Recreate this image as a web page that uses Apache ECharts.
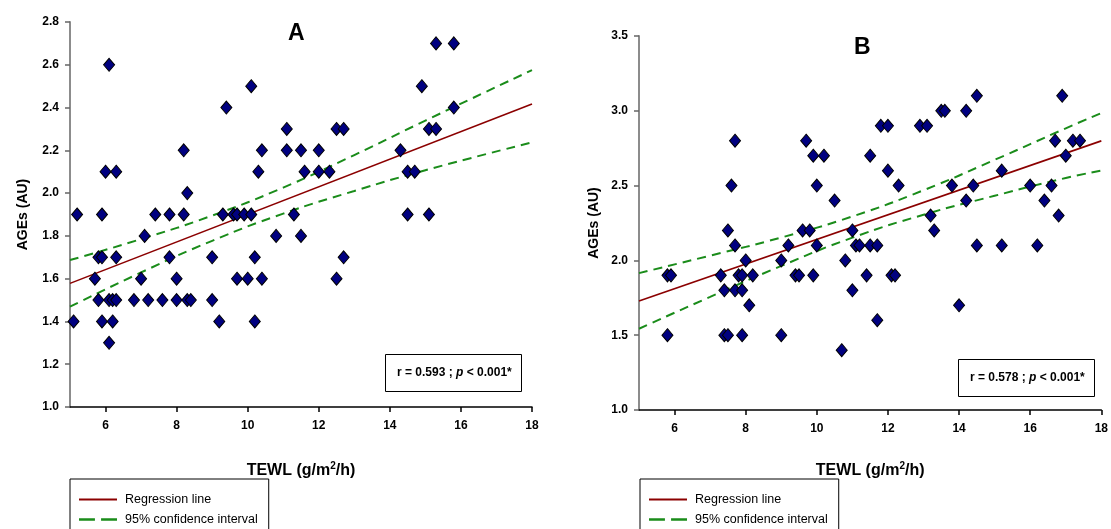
<!DOCTYPE html>
<html>
<head>
<meta charset="utf-8">
<title>AGEs vs TEWL</title>
<script src="https://cdn.jsdelivr.net/npm/echarts@6/dist/echarts.min.js"></script>
<style>
  html, body { margin: 0; padding: 0; background: #fff; }
  #chart { width: 1111px; height: 529px; }
</style>
</head>
<body>
<div id="chart"></div>
<script>
// 面板 A：散点 [TEWL, AGEs]
const pointsA = [
  [5.1, 1.4], [5.2, 1.9], [5.7, 1.6], [5.8, 1.7], [5.9, 1.7], [5.8, 1.5], [5.9, 1.4], [5.9, 1.9],
  [6.0, 2.1], [6.1, 2.6], [6.1, 1.5], [6.2, 1.5], [6.3, 1.5], [6.2, 1.4], [6.1, 1.3], [6.3, 1.7],
  [6.3, 2.1], [6.8, 1.5], [7.0, 1.6], [7.1, 1.8], [7.2, 1.5], [7.4, 1.9], [7.6, 1.5], [7.8, 1.9],
  [7.8, 1.7], [8.0, 1.6], [8.0, 1.5], [8.2, 1.9], [8.2, 2.2], [8.3, 2.0], [8.3, 1.5], [8.4, 1.5],
  [9.0, 1.7], [9.0, 1.5], [9.2, 1.4], [9.3, 1.9], [9.4, 2.4], [9.6, 1.9], [9.7, 1.9], [9.7, 1.6],
  [9.9, 1.9], [10.0, 1.6], [10.1, 1.9], [10.1, 2.5], [10.2, 1.7], [10.2, 1.4], [10.3, 2.1], [10.4, 2.2],
  [10.4, 1.6], [10.8, 1.8], [11.1, 2.3], [11.1, 2.2], [11.3, 1.9], [11.5, 2.2], [11.5, 1.8], [11.6, 2.1],
  [12.0, 2.2], [12.0, 2.1], [12.3, 2.1], [12.5, 2.3], [12.5, 1.6], [12.7, 2.3], [12.7, 1.7], [14.3, 2.2],
  [14.5, 2.1], [14.5, 1.9], [14.7, 2.1], [14.9, 2.5], [15.1, 2.3], [15.1, 1.9], [15.3, 2.3], [15.3, 2.7],
  [15.8, 2.7], [15.8, 2.4]
]
const regLineA = [[5, 1.578], [18, 2.417]]
const ciUpperA = [[5, 1.687], [7, 1.785], [9, 1.895], [11, 2.026], [13, 2.178], [15, 2.339], [18, 2.575]]
const ciLowerA = [[5, 1.469], [7, 1.629], [9, 1.777], [11, 1.904], [13, 2.010], [15, 2.107], [18, 2.237]]

// 面板 B
const pointsB = [
  [5.8, 1.9], [5.9, 1.9], [5.8, 1.5], [7.3, 1.9], [7.4, 1.8], [7.4, 1.5], [7.5, 1.5], [7.5, 2.2],
  [7.6, 2.5], [7.7, 2.8], [7.7, 2.1], [7.7, 1.8], [7.8, 1.9], [7.9, 1.9], [7.9, 1.8], [7.9, 1.5],
  [8.0, 2.0], [8.1, 1.7], [8.2, 1.9], [9.0, 2.0], [9.0, 1.5], [9.2, 2.1], [9.4, 1.9], [9.5, 1.9],
  [9.6, 2.2], [9.7, 2.8], [9.8, 2.2], [9.9, 1.9], [9.9, 2.7], [10.0, 2.5], [10.0, 2.1], [10.2, 2.7],
  [10.5, 2.4], [10.7, 1.4], [10.8, 2.0], [11.0, 1.8], [11.0, 2.2], [11.1, 2.1], [11.2, 2.1], [11.4, 1.9],
  [11.5, 2.7], [11.5, 2.1], [11.7, 2.1], [11.7, 1.6], [11.8, 2.9], [12.0, 2.9], [12.0, 2.6], [12.1, 1.9],
  [12.2, 1.9], [12.3, 2.5], [12.9, 2.9], [13.1, 2.9], [13.2, 2.3], [13.3, 2.2], [13.5, 3.0], [13.6, 3.0],
  [13.8, 2.5], [14.0, 1.7], [14.2, 3.0], [14.2, 2.4], [14.4, 2.5], [14.5, 3.1], [14.5, 2.1], [15.2, 2.6],
  [15.2, 2.1], [16.0, 2.5], [16.2, 2.1], [16.4, 2.4], [16.6, 2.5], [16.7, 2.8], [16.8, 2.3], [16.9, 3.1],
  [17.0, 2.7], [17.2, 2.8], [17.4, 2.8]
]
const regLineB = [[5, 1.729], [18, 2.799]]
const ciUpperB = [[5, 1.915], [7, 2.032], [9, 2.153], [11, 2.294], [13, 2.469], [15, 2.672], [17, 2.883], [18, 2.985]]
const ciLowerB = [[5, 1.543], [7, 1.756], [9, 1.963], [11, 2.152], [13, 2.305], [15, 2.432], [17, 2.551], [18, 2.600]]

// 刻度
const xTicks = [6, 8, 10, 12, 14, 16, 18]
const yRangeA = [1.0, 2.8]
const yStepA = 0.2
const yRangeB = [1.0, 3.5]
const yStepB = 0.5

const statsA = 'r = 0.593 ; '
const statsB = 'r = 0.578 ; '
const statsTail = ' < 0.001*'
const legendNames = ['Regression line', '95% confidence interval']

const FONT = 'Liberation Sans'
const NAVY = '#000080'
const DARK_RED = '#8b0000'
const GREEN = '#1a8c1a'

function xAxisFor (gridIndex, nameGap) {
  return {
    gridIndex: gridIndex,
    type: 'value',
    min: 5,
    max: 18,
    name: '{b|TEWL (g/m}{s|2}{b|/h)}',
    nameLocation: 'middle',
    nameGap: nameGap,
    nameTextStyle: {
      rich: {
        b: { fontFamily: FONT, fontWeight: 'bold', fontSize: 16, color: '#000' },
        s: { fontFamily: FONT, fontWeight: 'bold', fontSize: 10, color: '#000', verticalAlign: 'top', padding: [0, 0, 9, 0] }
      }
    },
    axisLine: { onZero: false, lineStyle: { color: '#000', width: 1.5 } },
    axisTick: { show: true, length: 5, customValues: xTicks, lineStyle: { color: '#000', width: 1.5 } },
    axisLabel: {
      customValues: xTicks,
      margin: 13,
      fontFamily: FONT, fontWeight: 'bold', fontSize: 12, color: '#000'
    },
    splitLine: { show: false }
  }
}

function yAxisFor (gridIndex, range, step, nameGap) {
  return {
    gridIndex: gridIndex,
    type: 'value',
    min: range[0],
    max: range[1],
    interval: step,
    name: 'AGEs (AU)',
    nameLocation: 'middle',
    nameGap: nameGap,
    nameTextStyle: { fontFamily: FONT, fontWeight: 'bold', fontSize: 14, color: '#000' },
    axisLine: { show: true, lineStyle: { color: '#8c8c8c', width: 2 } },
    axisTick: { show: true, length: 5, lineStyle: { color: '#666', width: 1.5 } },
    axisLabel: {
      margin: 11,
      formatter: v => v.toFixed(1),
      fontFamily: FONT, fontWeight: 'bold', fontSize: 12, color: '#000'
    },
    splitLine: { show: false }
  }
}

function panelSeries (idx, points, reg, upper, lower) {
  const dashed = {
    name: legendNames[1], type: 'line', xAxisIndex: idx, yAxisIndex: idx,
    symbol: 'none', smooth: true, silent: true, z: 3,
    lineStyle: { color: GREEN, width: 2, type: [9, 6] }
  }
  return [
    {
      name: legendNames[0], type: 'line', xAxisIndex: idx, yAxisIndex: idx,
      data: reg, symbol: 'none', silent: true, z: 3,
      lineStyle: { color: DARK_RED, width: 1.6 }
    },
    Object.assign({}, dashed, { data: upper }),
    Object.assign({}, dashed, { data: lower }),
    {
      name: 'AGEs', type: 'scatter', xAxisIndex: idx, yAxisIndex: idx,
      data: points, symbol: 'diamond', symbolSize: [11, 13], z: 4,
      itemStyle: { color: NAVY, borderColor: '#000', borderWidth: 1, opacity: 1 }
    }
  ]
}

function statsTitle (text, left, top) {
  return {
    text: '{a|' + text + '}{i|p}{a|' + statsTail + '}',
    left: left,
    top: top,
    padding: [13, 10, 13, 12],
    borderColor: '#000',
    borderWidth: 1,
    textStyle: {
      rich: {
        a: { fontFamily: FONT, fontWeight: 'bold', fontSize: 12, color: '#000' },
        i: { fontFamily: FONT, fontWeight: 'bold', fontStyle: 'italic', fontSize: 12, color: '#000' }
      }
    }
  }
}

// 图例框超出画布底部，给出固定高度避免竖排换列
function legendFor (left) {
  return {
    orient: 'vertical',
    left: left,
    top: 479,
    height: 80,
    padding: [14, 11, 22, 9],
    itemWidth: 38,
    itemHeight: 14,
    itemGap: 7,
    borderColor: '#000',
    borderWidth: 1,
    selectedMode: false,
    textStyle: { fontFamily: FONT, fontSize: 12.5, color: '#000', padding: [0, 0, 0, 3] },
    data: [
      { name: legendNames[0], icon: 'path://M0,0H38V2H0Z', itemStyle: { color: DARK_RED } },
      { name: legendNames[1], icon: 'path://M0,0H13V2H0ZM18,0H31V2H18Z', itemStyle: { color: GREEN } }
    ]
  }
}

const chart = echarts.init(document.getElementById('chart'), null, { renderer: 'canvas' })

const option = {
  backgroundColor: '#fff',
  animation: false,
  title: [
    { text: 'A', left: 283, top: 17, textStyle: { fontFamily: FONT, fontWeight: 'bold', fontSize: 23, color: '#000' } },
    { text: 'B', left: 849, top: 31, textStyle: { fontFamily: FONT, fontWeight: 'bold', fontSize: 23, color: '#000' } },
    statsTitle(statsA, 385, 354),
    statsTitle(statsB, 958, 359)
  ],
  legend: [legendFor(70), legendFor(640)],
  grid: [
    { left: 70, right: 579, top: 22, bottom: 122 },
    { left: 639, right: 9, top: 36, bottom: 119 }
  ],
  xAxis: [xAxisFor(0, 54), xAxisFor(1, 51)],
  yAxis: [yAxisFor(0, yRangeA, yStepA, 40), yAxisFor(1, yRangeB, yStepB, 38)],
  series: [].concat(
    panelSeries(0, pointsA, regLineA, ciUpperA, ciLowerA),
    panelSeries(1, pointsB, regLineB, ciUpperB, ciLowerB)
  )
}

chart.setOption(option)
</script>
</body>
</html>
